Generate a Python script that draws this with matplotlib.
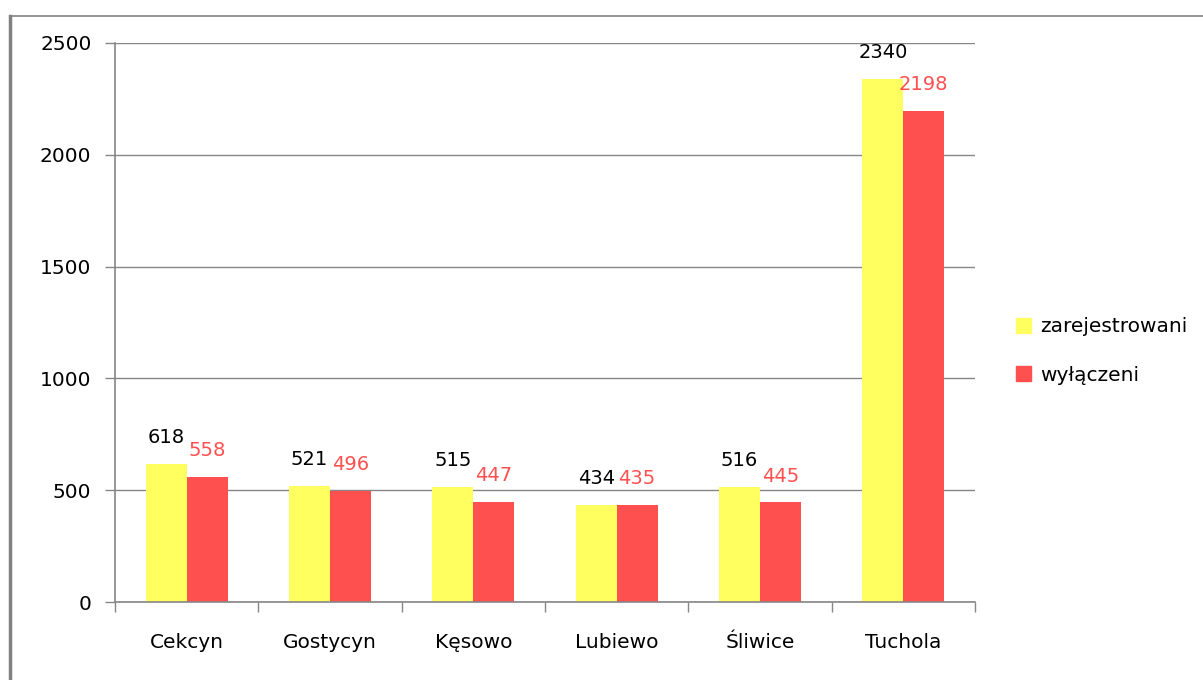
import matplotlib.pyplot as plt
import numpy as np
from matplotlib.lines import Line2D

categories = ["Cekcyn", "Gostycyn", "Kęsowo", "Lubiewo", "Śliwice", "Tuchola"]
zarejestrowani = [618, 521, 515, 434, 516, 2340]
wylaczeni = [558, 496, 447, 435, 445, 2198]
series_names = ["zarejestrowani", "wyłączeni"]
yticks = [0, 500, 1000, 1500, 2000, 2500]

plt.rcParams['font.family'] = ['DejaVu Sans']

fig = plt.figure(figsize=(12.03, 6.8), dpi=100)
ax = fig.add_axes([115/1203, 78/680, 860/1203, 559/680])

x = np.arange(len(categories))
w = 0.286
yellow = "#FFFF5F"
red = "#FF5050"
ax.bar(x - w/2, zarejestrowani, w, color=yellow, label=series_names[0], zorder=2)
ax.bar(x + w/2, wylaczeni, w, color=red, label=series_names[1], zorder=2)

for xi, v in zip(x, zarejestrowani):
    ax.annotate(str(v), (xi - w/2, v), xytext=(0, 19), textcoords="offset points",
                ha="center", va="center", fontsize=14, color="black")
for xi, v in zip(x, wylaczeni):
    ax.annotate(str(v), (xi + w/2, v), xytext=(0, 19), textcoords="offset points",
                ha="center", va="center", fontsize=14, color="#FF5050")

ax.set_xlim(-0.5, len(categories) - 0.5)
ax.set_ylim(0, 2500)
ax.set_yticks(yticks)
ax.set_yticklabels([str(t) for t in yticks], fontsize=14.5)
ax.yaxis.grid(True, color="#868686", linewidth=1, zorder=0)
ax.set_axisbelow(True)

ax.set_xticks(x)
ax.set_xticklabels(categories, fontsize=14.5)
ax.set_xticks(np.arange(-0.5, len(categories)), minor=True)
ax.tick_params(axis="x", which="major", length=0, pad=22)
ax.tick_params(axis="x", which="minor", length=7, color="#868686", width=1)
ax.tick_params(axis="y", length=7, color="#868686", width=1, pad=10)

for s in ["top", "right"]:
    ax.spines[s].set_visible(False)
for s in ["left", "bottom"]:
    ax.spines[s].set_color("#868686")
    ax.spines[s].set_linewidth(1.2)

handles = [plt.Rectangle((0, 0), 1, 1, color=yellow), plt.Rectangle((0, 0), 1, 1, color=red)]
fig.legend(handles, series_names, loc="center left", bbox_to_anchor=(998/1203, 1 - 351/680),
           frameon=False, fontsize=14.5, handlelength=0.75, handleheight=0.75,
           labelspacing=1.45, handletextpad=0.45)

# outer border
fig.add_artist(Line2D([10/1203, 10/1203], [0, 1 - 16/680], color="#808080", linewidth=2.5))
fig.add_artist(Line2D([10/1203, 1], [1 - 16/680, 1 - 16/680], color="#808080", linewidth=1.2))

fig.savefig("out.png", dpi=100, facecolor="white")
